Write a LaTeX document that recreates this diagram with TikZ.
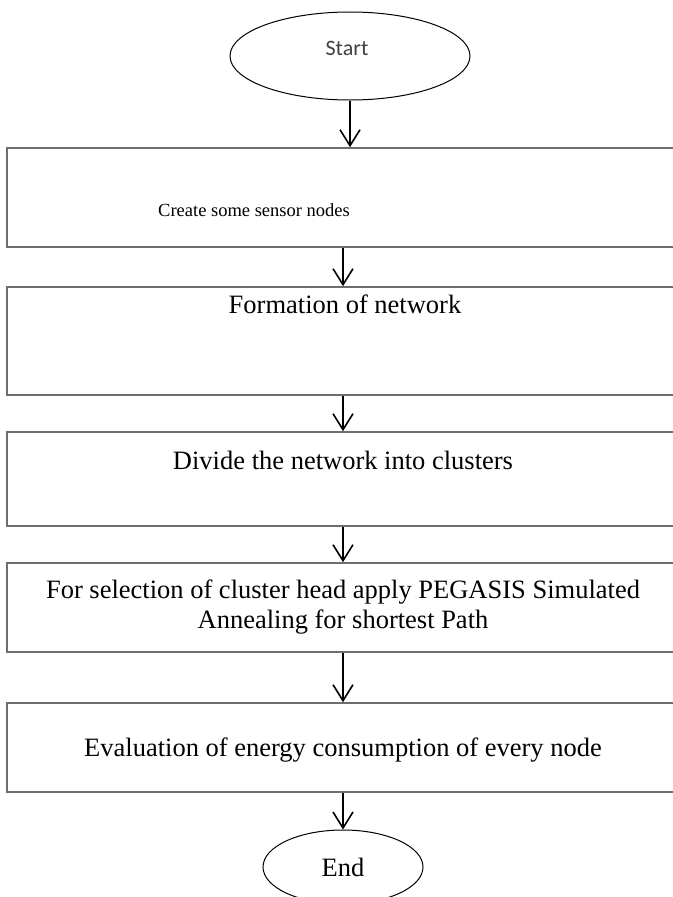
\documentclass[tikz,border=0pt]{standalone}
\usepackage{fontspec}
\setmainfont{Liberation Serif}
\newfontfamily\startfont{Carlito}
\usetikzlibrary{shapes.geometric,arrows.meta,positioning}
\definecolor{boxline}{HTML}{6E6E6E}
\definecolor{starttext}{HTML}{404040}
\newcommand{\boxfont}{\fontsize{26.5bp}{30bp}\selectfont}
\newcommand{\smallboxfont}{\fontsize{18.5bp}{21bp}\selectfont}

\begin{document}
\begin{tikzpicture}[x=1bp, y=-1bp,
  terminal/.style={ellipse, draw=black, line width=1bp, inner sep=0pt},
  stepbox/.style={rectangle, draw=boxline, line width=1.6bp, minimum width=672bp, inner sep=0pt},
  boxtext/.style={font=\boxfont, align=center, inner sep=0pt},
  arr/.style={-{Straight Barb[length=16bp, width=20bp]}, line width=1.6bp, black}
]
  \clip (0,0) rectangle (673,897);

  % Start
  \node[terminal, minimum width=240bp, minimum height=88bp] (start) at (350,56) {};
  \node[font=\startfont\fontsize{22bp}{24bp}\selectfont, text=starttext, inner sep=0pt] (starttxt) at (347,48) {Start};

  % Process boxes
  \foreach \n/\y/\h in {1/197.5/99, 2/341/108, 3/479/94, 4/607.5/89, 5/747.5/89} {
    \node[stepbox, minimum height=\h bp] (b\n) at (343,\y) {};
  }

  % Box texts
  \node[font=\smallboxfont, inner sep=0pt] (t1) at (254,210) {Create some sensor nodes};
  \node[boxtext] (t2) at (345,304) {Formation of network};
  \node[boxtext] (t3) at (343,460) {Divide the network into clusters};
  \node[boxtext] (t4) at (343,607) {For selection of cluster head apply PEGASIS Simulated\\Annealing for shortest Path};
  \node[boxtext] (t5) at (343,750) {Evaluation of energy consumption of every node};

  % End
  \node[terminal, minimum width=160bp, minimum height=74bp, font=\boxfont] (stop) at (343,867) {End};

  % Connections
  \draw[arr] (start) -- (start |- b1.north);
  \foreach \i/\j in {1/2, 2/3, 3/4, 4/5} {
    \draw[arr] (b\i) -- (b\j);
  }
  \draw[arr] (b5) -- (stop);
\end{tikzpicture}
\end{document}
